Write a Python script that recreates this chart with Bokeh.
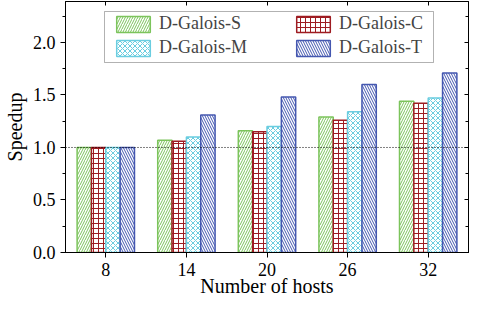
from bokeh.plotting import figure
from bokeh.models import (ColumnDataSource, FactorRange, Range1d, Legend, LegendItem,
                          LinearAxis, CategoricalAxis, SingleIntervalTicker, Span,
                          BoxAnnotation, PrintfTickFormatter, CustomJSTickFormatter)
from bokeh.transform import dodge
from bokeh.embed import file_html
from bokeh.resources import INLINE

# ---- data ----
hosts = ["8", "14", "20", "26", "32"]
galois_s = [1.00, 1.07, 1.16, 1.29, 1.44]
galois_c = [1.00, 1.06, 1.15, 1.26, 1.42]
galois_m = [1.00, 1.10, 1.20, 1.34, 1.47]
galois_t = [1.00, 1.31, 1.48, 1.60, 1.71]
series_names = ["D-Galois-S", "D-Galois-C", "D-Galois-M", "D-Galois-T"]
x_title = "Number of hosts"
y_title = "Speedup"
baseline = 1.0

FONT = "Liberation Serif"

src = ColumnDataSource(dict(hosts=hosts, s=galois_s, c=galois_c, m=galois_m, t=galois_t))

p = figure(x_range=FactorRange(*hosts), y_range=Range1d(0, 2.39),
           width=470, height=302, output_backend="svg", toolbar_location=None,
           min_border_left=62, min_border_right=2, min_border_top=1, min_border_bottom=50)
p.xgrid.visible = False
p.ygrid.visible = False
p.outline_line_color = "black"
p.outline_line_width = 1

bw = 0.178
styles = [
    ("s", "#7cc45c", "/"),
    ("c", "#9e1c22", "+"),
    ("m", "#6acde0", "x"),
    ("t", "#4457b0", "\\"),
]
offsets = [-1.5 * bw, -0.5 * bw, 0.5 * bw, 1.5 * bw]
renderers = []
for (col, color, pat), off in zip(styles, offsets):
    r = p.vbar(x=dodge("hosts", off, range=p.x_range), top=col, width=bw, source=src,
               fill_color="white", line_color=color, line_width=1.5,
               hatch_pattern=pat, hatch_color=color, hatch_scale=5, hatch_weight=1)
    renderers.append(r)

p.add_layout(Span(location=baseline, dimension="width", line_color="black",
                  line_dash="1 2", line_width=1))

ticker = SingleIntervalTicker(interval=0.5, num_minor_ticks=2)

# left axis
ya = p.yaxis[0]
ya.ticker = ticker
ya.formatter = PrintfTickFormatter(format="%.1f")
ya.axis_label = y_title
ya.major_tick_out = 5
ya.major_tick_in = 0
ya.minor_tick_out = 3
ya.minor_tick_in = 0
ya.major_label_standoff = 5
ya.axis_label_standoff = 4

# bottom axis
xa = p.xaxis[0]
xa.axis_label = x_title
xa.major_tick_out = 5
xa.major_tick_in = 0
xa.major_label_standoff = 5
xa.axis_label_standoff = -4

for ax in (ya, xa):
    ax.major_label_text_font = FONT
    ax.major_label_text_font_size = "18px"
    ax.major_label_text_color = "black"
    ax.axis_label_text_font = FONT
    ax.axis_label_text_font_size = "20px"
    ax.axis_label_text_font_style = "normal"
    ax.axis_label_text_color = "black"
    ax.axis_line_color = "black"
    ax.major_tick_line_color = "black"
    ax.minor_tick_line_color = "black"

blank = CustomJSTickFormatter(code="return ''")
ra = LinearAxis(ticker=ticker, formatter=blank, major_tick_in=4, major_tick_out=0,
                minor_tick_in=3, minor_tick_out=0, major_label_standoff=0,
                major_label_text_font_size="0px", axis_line_color="black")
p.add_layout(ra, "right")
ta = CategoricalAxis(formatter=blank, major_tick_in=4, major_tick_out=0,
                     major_label_standoff=0, major_label_text_font_size="0px",
                     axis_line_color="black")
p.add_layout(ta, "above")

# legend box (frame-relative screen units) + two legend columns
p.add_layout(BoxAnnotation(left=39, right=368, top=241, bottom=190,
                           left_units="screen", right_units="screen",
                           top_units="screen", bottom_units="screen",
                           fill_color=None, line_color="black", line_width=1))

def make_legend(idx, loc):
    return Legend(items=[LegendItem(label=series_names[i], renderers=[renderers[i]]) for i in idx],
                  location=loc, glyph_width=42, glyph_height=20, label_standoff=5,
                  spacing=3, padding=0, margin=0, border_line_color=None,
                  background_fill_alpha=0, label_text_font=FONT,
                  label_text_font_size="18px", label_height=20)

p.add_layout(make_legend([0, 2], (47, 194)))
p.add_layout(make_legend([1, 3], (227, 194)))

open("out.html", "w").write(file_html(p, INLINE))
